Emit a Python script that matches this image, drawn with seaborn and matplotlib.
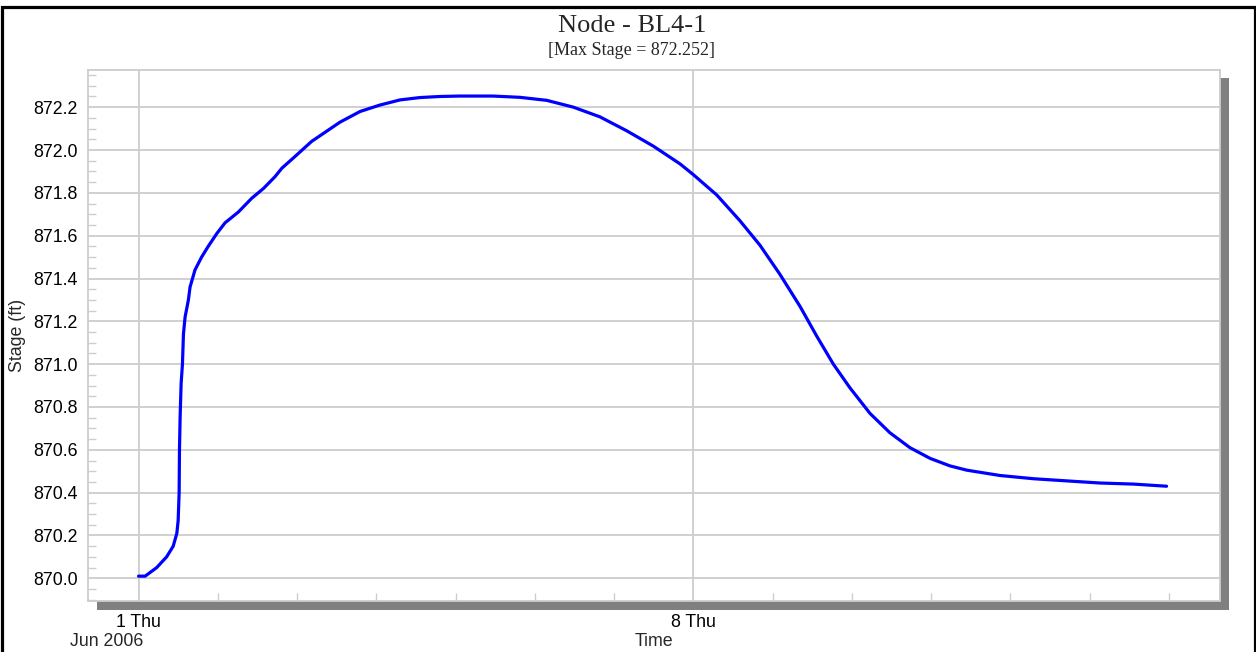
import numpy as np
import pandas as pd
import matplotlib
matplotlib.use("Agg")
import matplotlib.pyplot as plt
import matplotlib.dates as mdates
from matplotlib.patches import Rectangle
from matplotlib.ticker import MultipleLocator, FuncFormatter
import seaborn as sns

# ---- data ----
title = "Node - BL4-1"
subtitle = "[Max Stage = 872.252]"
start_date = "2006-06-01"
hours = [0, 2, 5.5, 8.5, 10.5, 11.6, 12.0, 12.3, 12.4, 12.6, 12.9, 13.3, 13.6, 14.1,
         15.1, 15.6, 17.1, 19.1, 21.1, 23.7, 26.2, 30.2, 34.3, 37.8, 41.3, 43.4,
         47.4, 52.4, 61.0, 67.1, 73.1, 79.2, 85.2, 91.3, 97.3, 107.4, 115.5, 123.6,
         131.7, 139.7, 147.8, 155.9, 164.0, 168.0, 175.1, 182.1, 188.2, 194.2,
         200.3, 205.4, 210.4, 215.4, 221.5, 227.5, 233.6, 239.7, 245.7, 250.8,
         260.9, 271.0, 281.0, 291.1, 301.2, 311.3]
stage = [870.01, 870.01, 870.05, 870.10, 870.15, 870.21, 870.27, 870.40, 870.60,
         870.755, 870.91, 871.00, 871.14, 871.22, 871.30, 871.36, 871.44, 871.50,
         871.55, 871.61, 871.66, 871.71, 871.775, 871.82, 871.875, 871.915,
         871.97, 872.04, 872.13, 872.18, 872.21, 872.234, 872.245, 872.25,
         872.252, 872.252, 872.246, 872.232, 872.20, 872.155, 872.09, 872.018,
         871.935, 871.885, 871.79, 871.67, 871.555, 871.42, 871.27, 871.13,
         871.00, 870.89, 870.77, 870.68, 870.61, 870.56, 870.525, 870.505,
         870.48, 870.465, 870.455, 870.445, 870.44, 870.43]
x_label = "Time"
y_label = "Stage (ft)"
month_label = "Jun 2006"

times = pd.Timestamp(start_date) + pd.to_timedelta(hours, unit="h")
df = pd.DataFrame({"Time": times, "Stage": stage})

# ---- figure ----
sns.set_style("white")
plt.rcParams["font.family"] = ["Liberation Sans", "DejaVu Sans"]

W, H = 1256, 652
fig = plt.figure(figsize=(W / 100, H / 100), dpi=100)
fig.patch.set_facecolor("white")

def fx(px):
    return px / W

def fy(py):
    return 1 - py / H

L, R, T, B = 88, 1220, 69.5, 601
ax = fig.add_axes([fx(L), fy(B), fx(R) - fx(L), fy(T) - fy(B)])
ax.set_zorder(1)
ax.set_facecolor("white")

# drop shadow behind plot area
fig.patches.append(Rectangle((fx(L + 8.5), fy(B + 8.5)), fx(R) - fx(L), fy(T) - fy(B),
                             transform=fig.transFigure, facecolor="#808080",
                             edgecolor="none", zorder=0))
# outer black frame
fig.patches.append(Rectangle((fx(1.5), fy(700)), fx(1253), fy(6.5) - fy(700),
                             transform=fig.transFigure, facecolor="none",
                             edgecolor="black", lw=2.3, zorder=5, clip_on=False))

sns.lineplot(data=df, x="Time", y="Stage", ax=ax, color="#0000ff", lw=2.3,
             estimator=None, sort=False)

ax.set_xlim(pd.Timestamp("2006-05-31 08:42"), pd.Timestamp("2006-06-14 15:29"))
ax.set_ylim(869.894, 872.376)

ax.xaxis.set_major_locator(mdates.DayLocator(bymonthday=[1, 8]))
ax.xaxis.set_minor_locator(mdates.DayLocator())
ax.xaxis.set_major_formatter(FuncFormatter(
    lambda v, p: f"{mdates.num2date(v).day} {mdates.num2date(v).strftime('%a')}"))
ax.yaxis.set_major_locator(MultipleLocator(0.2))
ax.yaxis.set_minor_locator(MultipleLocator(0.05))
ax.yaxis.set_major_formatter(FuncFormatter(lambda v, p: f"{v:.1f}"))

grid_c = "#cdcdcd"
ax.grid(True, which="major", color=grid_c, lw=1.3)
ax.set_axisbelow(True)
for s in ax.spines.values():
    s.set_color(grid_c)
    s.set_linewidth(1.3)

fs = 12.8
ax.tick_params(axis="both", which="major", direction="out", length=5.8, width=1,
               color=grid_c, labelsize=fs, labelcolor="black")
ax.tick_params(axis="y", which="major", pad=1.5)
ax.tick_params(axis="x", which="major", pad=3.5)
ax.tick_params(axis="both", which="minor", direction="in", length=5.5, width=1,
               color=grid_c)
ax.tick_params(axis="y", which="minor", left=True)
ax.tick_params(axis="x", which="minor", bottom=True)

ax.set_xlabel(x_label, fontsize=fs)
ax.set_ylabel(y_label, fontsize=fs)
ax.xaxis.set_label_coords(0.5, -(642 - B) / (B - T))
ax.xaxis.label.set_va("center")
ax.yaxis.set_label_coords(-(L - 18) / (R - L), 0.5)
ax.yaxis.label.set_va("center")

fig.text(fx(106.5), fy(641), month_label, ha="center", va="center", fontsize=fs)

fig.text(fx(632), fy(26.5), title, ha="center", va="center", fontsize=19,
         family=["Liberation Serif", "DejaVu Serif"])
fig.text(fx(632), fy(50.5), subtitle, ha="center", va="center", fontsize=13,
         family=["Liberation Serif", "DejaVu Serif"])

fig.savefig("out.png", dpi=100, facecolor="white")
